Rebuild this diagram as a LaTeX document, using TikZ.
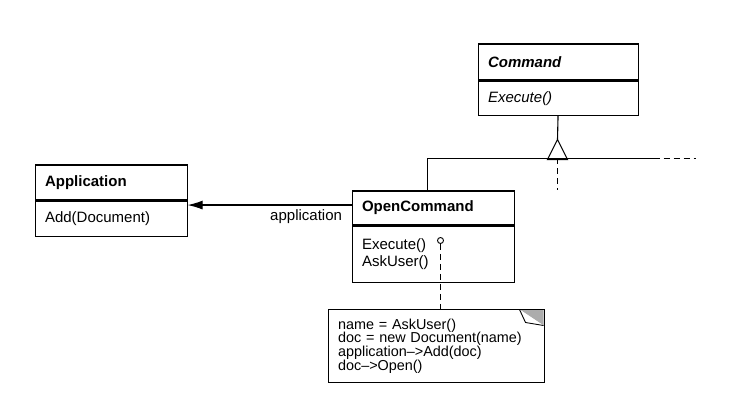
\documentclass[tikz,border=0pt]{standalone}
\usepackage{fontspec}
\setmainfont{Liberation Sans}
\usetikzlibrary{arrows.meta}
\usetikzlibrary{calc,shapes,positioning}

\tikzset{
	classname/.style={draw, anchor=north west, inner xsep=10pt, inner ysep=0pt, align=left,
		font=\fontsize{15}{16.5}\selectfont\bfseries},
	classops/.style={draw, below=0pt of #1, inner xsep=10pt, inner ysep=0pt, align=left,
		font=\fontsize{15}{16.5}\selectfont},
	notebox/.style={anchor=north west, inner xsep=9pt, inner ysep=0pt, align=left,
		minimum width=215pt, minimum height=72pt, text width=197pt,
		font=\fontsize{14.4}{13.7}\selectfont},
	assoc/.style={-{Latex[length=15pt,width=9pt]}},
	dashline/.style={dash pattern=on 6pt off 4pt}
}

\begin{document}
\begin{tikzpicture}[x=1pt,y=-1pt,line width=1.1pt]
				\useasboundingbox (0,0) rectangle (731,406);
				% Classes
				\node[classname,text width=140pt,minimum height=36pt,font=\fontsize{15}{16.5}\selectfont\bfseries\itshape] (cmd) at (477.5,43.5) {Command};
				\node[classops=cmd,text width=140pt,minimum height=34pt,font=\fontsize{15}{16.5}\selectfont\itshape] (cmdops) {Execute()};
				\node[classname,text width=132pt,minimum height=35pt] (app) at (34.5,164.5) {Application};
				\node[classops=app,text width=132pt,minimum height=35pt] (appops) {Add(Document)};
				\node[classname,text width=142pt,minimum height=34pt] (opencmd) at (351.5,190.5) {OpenCommand};
				\node[classops=opencmd,text width=142pt,minimum height=56pt] (opencmdops) {Execute()\\AskUser()};
				% Heritage
				\coordinate (apex) at (557.5,139.5);
				\coordinate (bar left) at (427.5,158.5);
				\coordinate (bar right) at (653.5,158.5);
				\coordinate (bar end) at (695.5,158.5);
				\coordinate (sub end) at (557.5,190.5);
				\draw (cmdops.south) -- (apex);
				\draw[fill=white] (apex) -- ++(-10,20) -- ++(20,0) -- cycle;
				\draw (bar left) -- (bar right);
				\draw[dashline] (bar right) -- (bar end);
				\draw (bar left) -- (bar left |- opencmd.north);
				\draw[dashline] (apex |- bar right) -- (sub end);
				% Association
				\coordinate (asc) at ([yshift=3pt]opencmd.west);
				\draw[assoc] (asc) node[below left=4pt and 9pt,inner sep=0pt,font=\fontsize{15}{16.5}\selectfont] (asclabel) {application} -- (asc -| appops.east);
				% Note
				\node[notebox] (note) at (328.5,309.5) {name = AskUser()\\doc = new Document(name)\\application-->Add(doc)\\doc-->Open()};
				\fill[gray!65] (519.5,309.5) -- (543.5,309.5) -- (543.5,325.5) -- cycle;
				\draw[fill=white,line width=0.9pt] (519.5,309.5) -- (525.5,322.5) -- (543.5,325.5);
				\draw (note.north west) rectangle (note.south east);
				\node[circle,draw,fill=white,inner sep=0pt,minimum size=6pt,line width=0.9pt] (execdot) at (440.5,240.5) {};
				\draw[dashline] (execdot) -- (execdot |- note.north);
\end{tikzpicture}
\end{document}
